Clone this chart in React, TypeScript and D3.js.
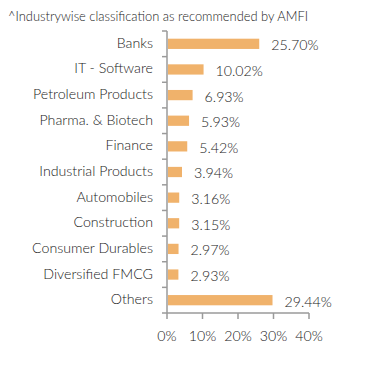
import * as d3 from "d3";

const categories = [
  "Banks",
  "IT - Software",
  "Petroleum Products",
  "Pharma. & Biotech",
  "Finance",
  "Industrial Products",
  "Automobiles",
  "Construction",
  "Consumer Durables",
  "Diversified FMCG",
  "Others",
];
const values = [25.7, 10.02, 6.93, 5.93, 5.42, 3.94, 3.16, 3.15, 2.97, 2.93, 29.44];
const xTicks = [0, 10, 20, 30, 40];
const title = "^Industrywise classification as recommended by AMFI";

const width = 391;
const height = 367;
const margin = { top: 31, right: 82, bottom: 54, left: 167 };
const font = "Lato, 'Open Sans', sans-serif";

export default function App() {
  const innerW = width - margin.left - margin.right;
  const innerH = height - margin.top - margin.bottom;

  const x = d3.scaleLinear().domain([0, 40]).range([0, innerW]);
  const y = d3.scaleBand().domain(categories).range([0, innerH]).paddingInner(0.6).paddingOuter(0.3);
  const step = y.step();
  const axisColor = "#9a9a9a";
  const textColor = "#222";

  return (
    <svg
      width={width}
      height={height}
      style={{ position: "absolute", left: 0, top: 0, background: "#fff" }}
      fontFamily={font}
    >
      <text x={8} y={21} fontSize={12.9} fill={textColor} fontWeight={300}>
        {title}
      </text>
      <g transform={`translate(${margin.left},${margin.top})`}>
        {categories.map((c, i) => (
          <g key={c}>
            <rect
              x={1}
              y={y(c)}
              width={x(values[i])}
              height={y.bandwidth()}
              fill="#F0B26B"
            />
            <text
              x={x(values[i]) + 13}
              y={(y(c) ?? 0) + y.bandwidth() / 2 + 1.5}
              dy="0.35em"
              fontSize={14.2}
              fill={textColor}
              fontWeight={300}
            >
              {values[i].toFixed(2)}%
            </text>
            <text
              x={-14}
              y={(y(c) ?? 0) + y.bandwidth() / 2 - 1}
              dy="0.35em"
              textAnchor="end"
              fontSize={14.2}
              fill={textColor}
              fontWeight={300}
            >
              {c}
            </text>
          </g>
        ))}
        {/* y axis */}
        <line x1={0} x2={0} y1={0} y2={innerH} stroke={axisColor} strokeWidth={1.5} />
        {d3.range(categories.length + 1).map((i) => (
          <line key={i} x1={-5} x2={0} y1={i * step} y2={i * step} stroke={axisColor} strokeWidth={1.5} />
        ))}
        {/* x axis */}
        <line x1={0} x2={innerW} y1={innerH} y2={innerH} stroke={axisColor} strokeWidth={1.5} />
        {xTicks.map((t) => (
          <g key={t} transform={`translate(${x(t)},${innerH})`}>
            <line y1={0} y2={6} stroke={axisColor} strokeWidth={1.5} />
            <text y={28} textAnchor="middle" fontSize={14.2} fill={textColor} fontWeight={300}>
              {t}%
            </text>
          </g>
        ))}
      </g>
    </svg>
  );
}
